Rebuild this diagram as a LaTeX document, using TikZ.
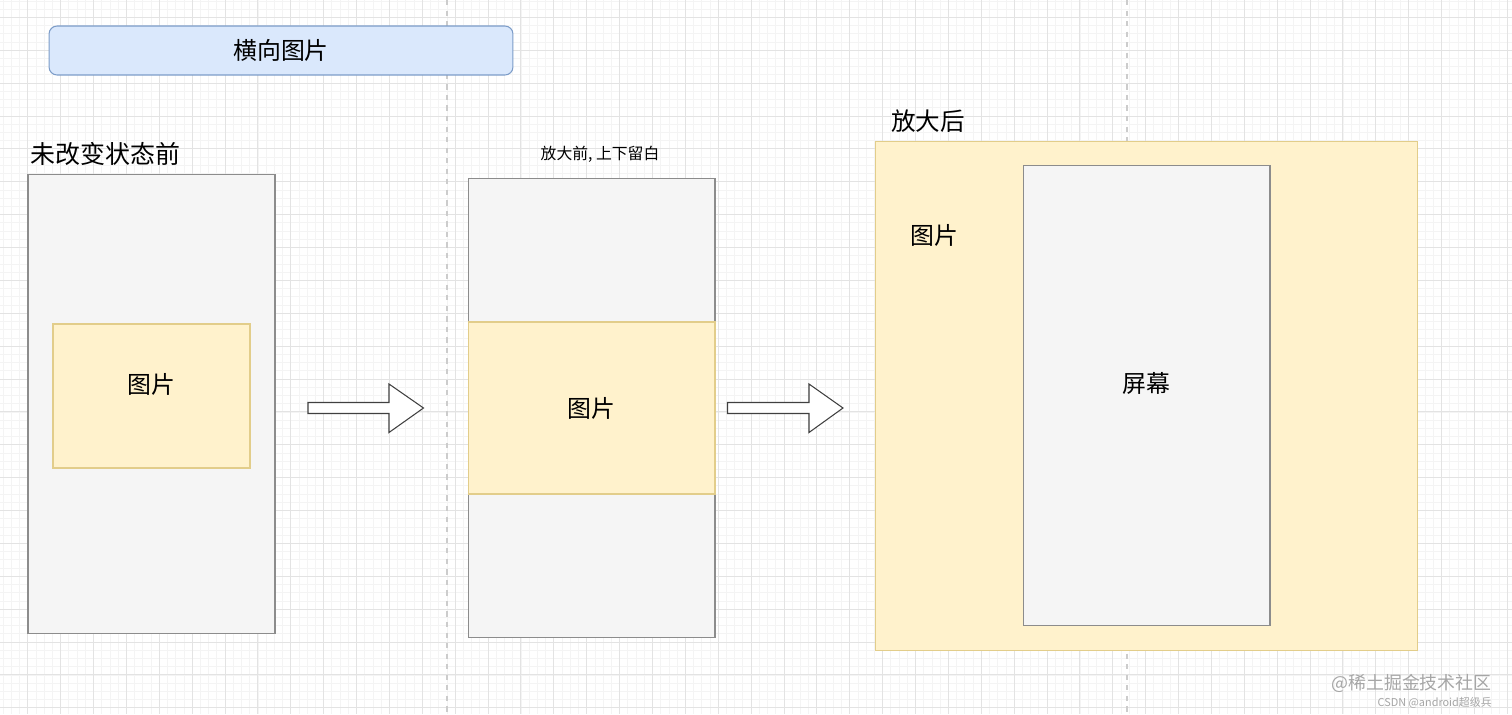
\documentclass[tikz,border=0pt]{standalone}
\usepackage{fontspec}
\setmainfont{Noto Sans CJK SC}
\definecolor{titlefill}{HTML}{DAE8FC}
\definecolor{titleline}{HTML}{7C9CC8}
\definecolor{picfill}{HTML}{FFF2CC}
\definecolor{picline}{HTML}{E2CD8A}
\definecolor{scrfill}{HTML}{F5F5F5}
\definecolor{scrline}{HTML}{8C8C8C}
\definecolor{gridminor}{HTML}{F4F4F4}
\definecolor{gridmajor}{HTML}{E3E3E3}
\definecolor{marktext}{HTML}{A6A6A6}

\begin{document}
\begin{tikzpicture}[x=0.02cm, y=-0.02cm,
	box/.style={shape=rectangle, draw, line width=0.6pt, inner sep=0pt},
	screenbox/.style={box, draw=scrline, fill=scrfill, minimum width=4.94cm, minimum height=9.2cm},
	picbox/.style={box, draw=picline, fill=picfill},
	bigtext/.style={font=\fontsize{13.6}{16}\selectfont, inner sep=0pt},
	smalltext/.style={font=\fontsize{9}{11}\selectfont, inner sep=0pt},
	blockarrow/.style={draw=black!75, fill=white, line width=0.6pt, line join=miter}]
	% Background and grid:
	\useasboundingbox (0, 0) rectangle (1512, 714);
	\fill[white] (0, 0) rectangle (1512, 714);
	\foreach \k in {-3,...,180} \draw[gridminor, line width=0.4pt] ({27.7+8.22*\k}, 0) -- ({27.7+8.22*\k}, 714);
	\foreach \k in {-2,...,84} \draw[gridminor, line width=0.4pt] (0, {17.3+8.22*\k}) -- (1512, {17.3+8.22*\k});
	\foreach \k in {0,...,45} \draw[gridmajor, line width=0.5pt] ({27.7+32.88*\k}, 0) -- ({27.7+32.88*\k}, 714);
	\foreach \k in {0,...,21} \draw[gridmajor, line width=0.5pt] (0, {17.3+32.88*\k}) -- (1512, {17.3+32.88*\k});
	\draw[black!20, dashed, line width=0.6pt] (447, 0) -- (447, 714);
	\draw[black!20, dashed, line width=0.6pt] (1127, 0) -- (1127, 714);
	% Title:
	\node[box, draw=titleline, fill=titlefill, rounded corners=0.16cm, minimum width=9.28cm, minimum height=0.98cm, bigtext] (title) at (281, 50.5){横向图片};
	% Before any change:
	\node[bigtext, anchor=west, font=\fontsize{14.2}{17}\selectfont] (beforelbl) at (30, 154){未改变状态前};
	\node[screenbox] (screenA) at (151.5, 404){};
	\node[picbox, minimum width=3.94cm, minimum height=2.88cm] (picA) at (151.5, 396){} node[bigtext] (picAtxt) at (151, 384){图片};
	\draw[blockarrow] (308, 402.5) -- (389, 402.5) -- (389, 384) -- (423.5, 408) -- (389, 432.5) -- (389, 413.5) -- (308, 413.5) -- cycle;
	% Before zooming:
	\node[smalltext] (midlbl) at (600, 154){放大前, 上下留白};
	\node[screenbox] (screenB) at (591.5, 408){};
	\node[picbox, minimum width=4.94cm, minimum height=3.44cm, bigtext] (picB) at (591.5, 408){图片};
	\draw[blockarrow] (727.5, 402.5) -- (809, 402.5) -- (809, 384) -- (843, 408) -- (809, 432.5) -- (809, 413.5) -- (727.5, 413.5) -- cycle;
	% After zooming:
	\node[bigtext, anchor=west, font=\fontsize{14}{17}\selectfont] (afterlbl) at (891, 121){放大后};
	\node[picbox, minimum width=10.86cm, minimum height=10.18cm] (picC) at (1146.5, 396){} node[bigtext] (picCtxt) at (934, 235){图片};
	\node[screenbox] (screenC) at (1146.5, 395.5){} node[bigtext] (screenCtxt) at (1146, 383){屏幕};
	% Watermark:
	\node[anchor=east, inner sep=0pt, text=marktext, font=\fontsize{10.2}{12}\selectfont] (mark) at (1492, 683){@稀土掘金技术社区};
	\node[anchor=east, inner sep=0pt, text=marktext, font=\fontsize{6.2}{8}\selectfont] (csdn) at (1492, 703){CSDN @android超级兵};
\end{tikzpicture}
\end{document}
